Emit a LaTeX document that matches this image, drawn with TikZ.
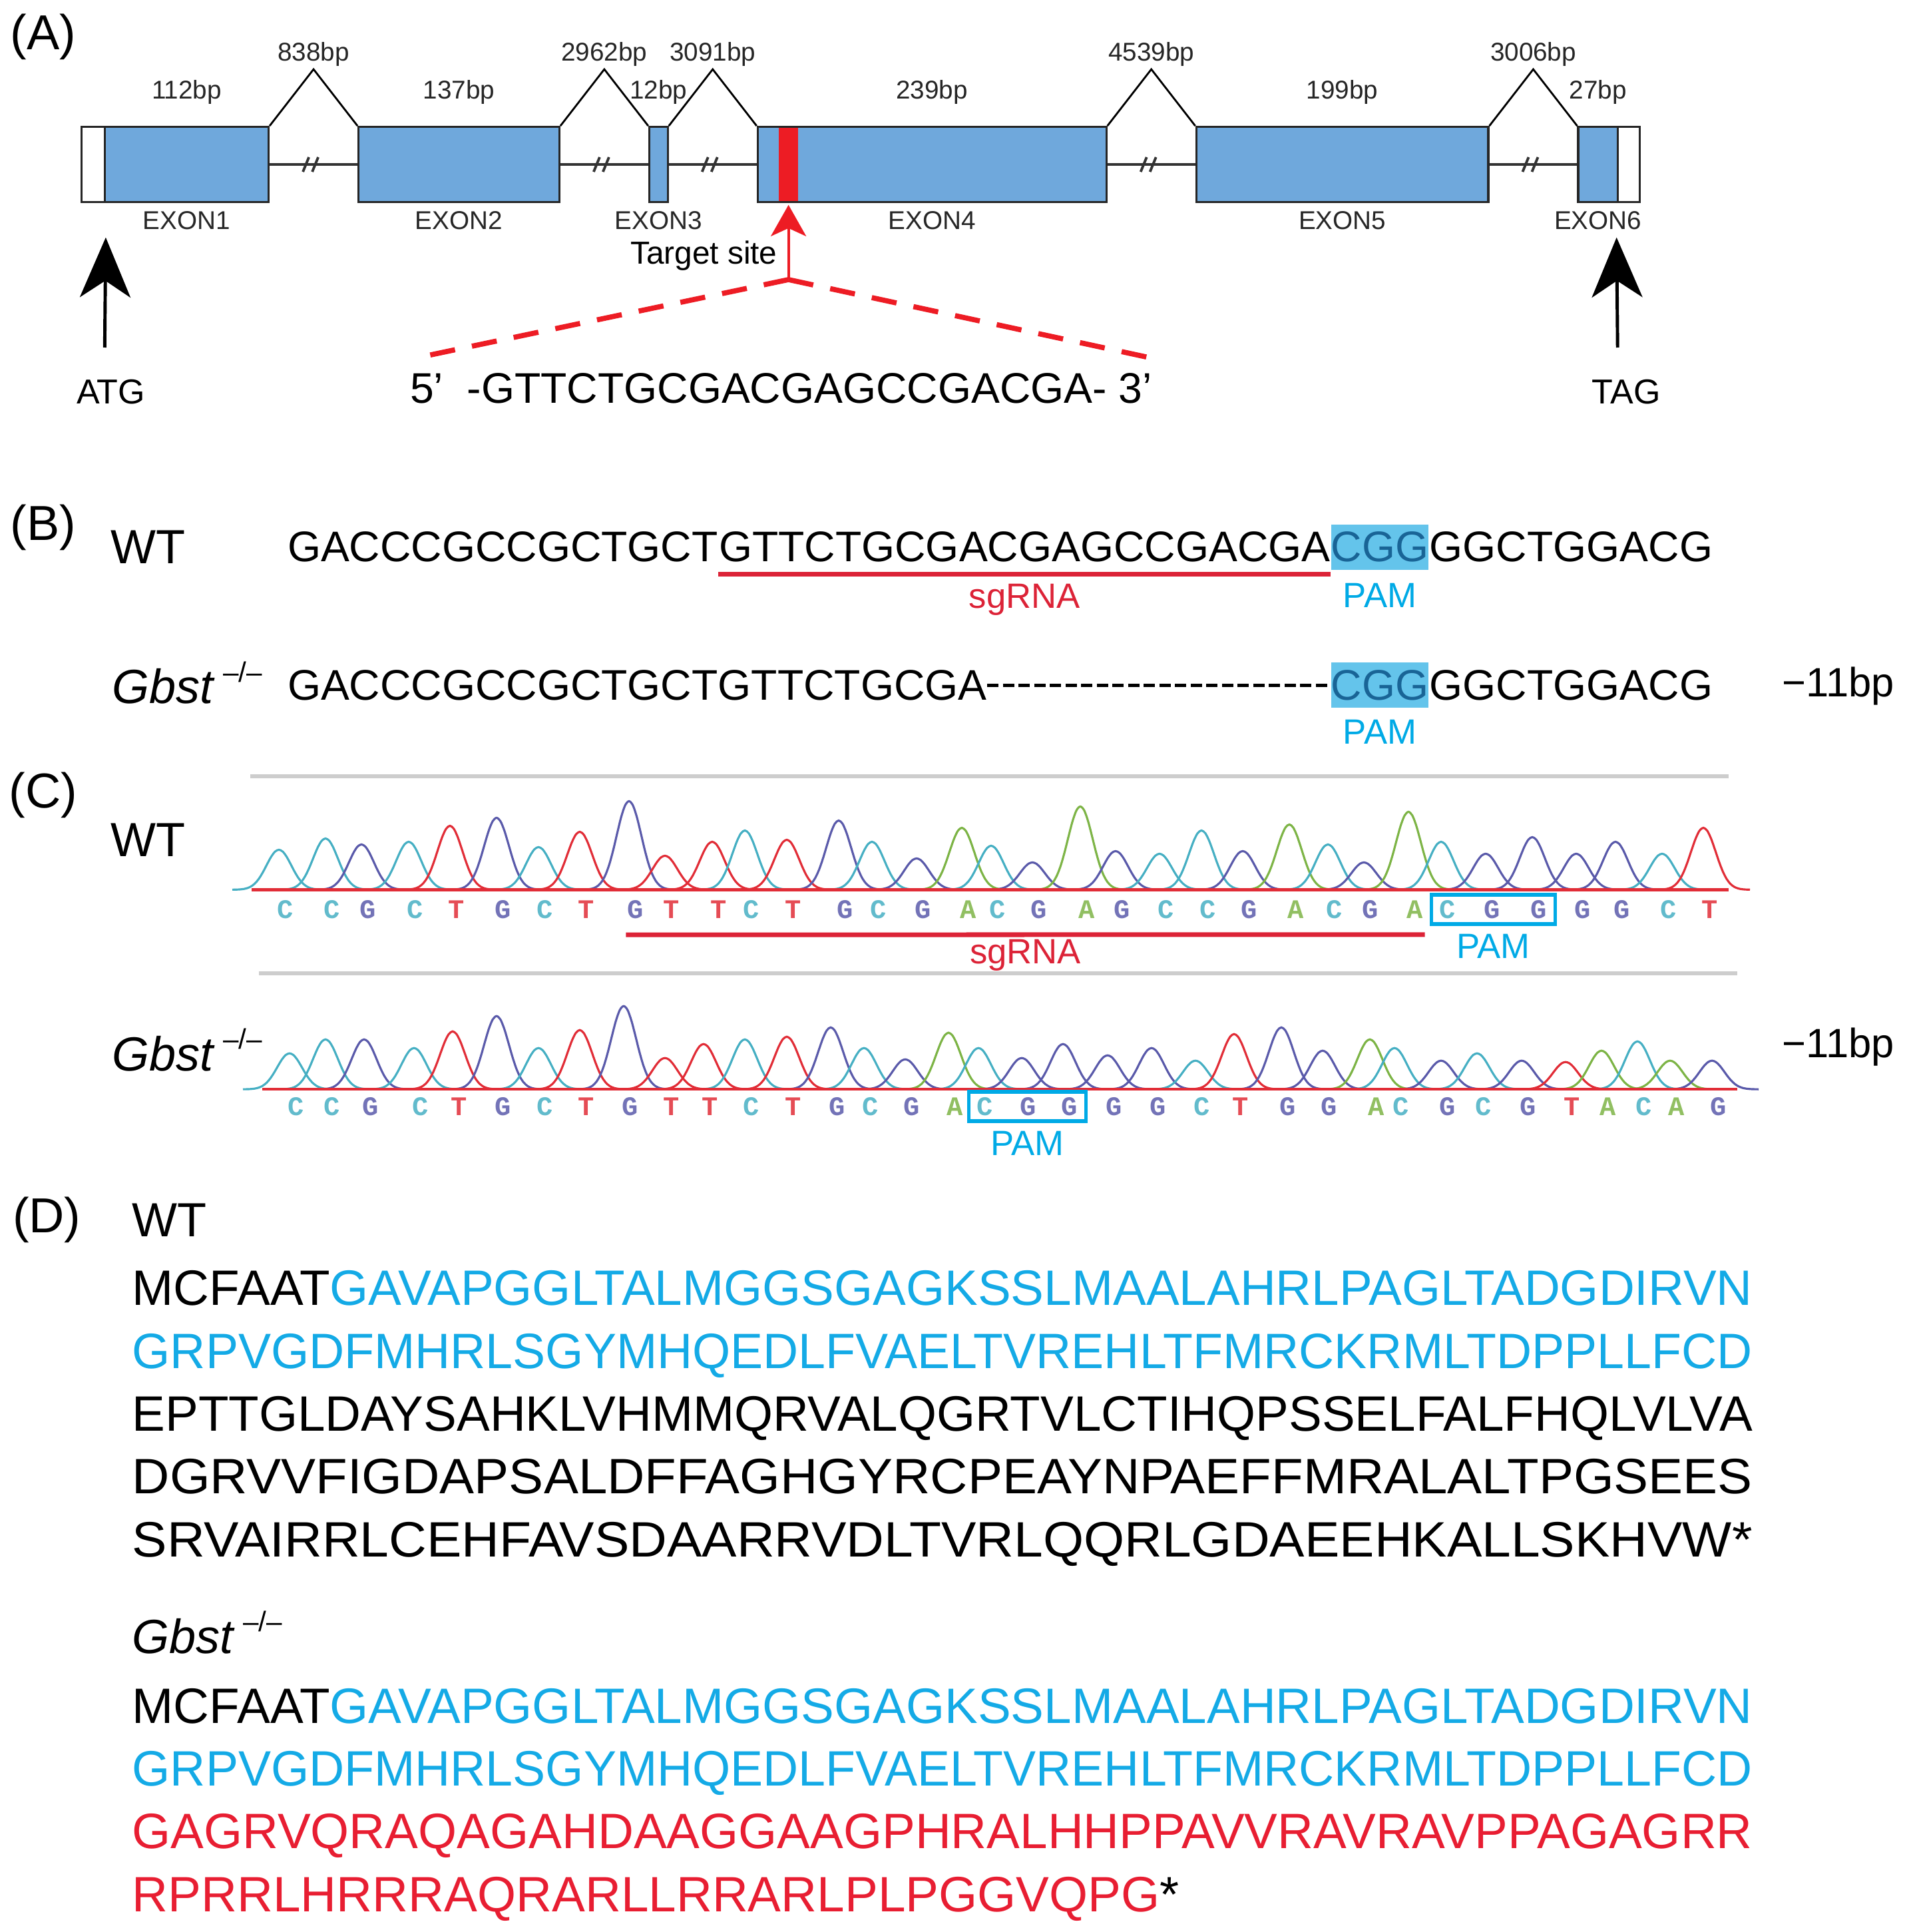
\documentclass[tikz,border=0pt]{standalone}
\usepackage{fontspec}
\setmainfont{Liberation Sans}
\newfontfamily\monofont{Liberation Mono}
\usepackage{graphicx}
\usepackage{tikz}
\usetikzlibrary{arrows.meta,positioning,fit,calc}

\definecolor{exonblue}{RGB}{111,168,220}
\definecolor{siteRed}{RGB}{237,28,36}
\definecolor{pamfill}{RGB}{100,196,235}
\definecolor{pamdark}{RGB}{25,100,150}
\definecolor{pamtext}{RGB}{0,170,230}
\definecolor{sgred}{RGB}{220,35,55}
\definecolor{protblue}{RGB}{20,170,230}
\definecolor{protred}{RGB}{232,30,50}
\definecolor{baseA}{RGB}{125,180,70}
\definecolor{baseC}{RGB}{70,175,195}
\definecolor{baseG}{RGB}{90,90,170}
\definecolor{baseT}{RGB}{225,45,55}
\definecolor{sepgray}{RGB}{205,205,205}

\newcommand{\gbst}{\textit{Gbst}\,\raisebox{0.85ex}{\fontsize{12}{12}\selectfont –/–}}
\newcommand{\fitline}[1]{\resizebox{24.34cm}{\height}{#1}}

\begin{document}
\begin{tikzpicture}[
    panel/.style={font=\fontsize{21}{25}\selectfont},
    lab/.style={font=\fontsize{20.5}{24}\selectfont},
    exon/.style={draw=black!85, line width=0.9pt, fill=exonblue, minimum height=1.129cm, inner sep=0pt},
    utr/.style={exon, fill=white},
    bp/.style={font=\fontsize{11}{13}\selectfont, text=black!85},
    intron/.style={line width=1.1pt, black!80},
    hinge/.style={line width=0.8pt},
    seq/.style={font=\fontsize{18.3}{22}\selectfont, inner xsep=0pt, inner ysep=0.11cm},
    pam/.style={seq, fill=pamfill, text=pamdark},
    tag/.style={font=\fontsize{15}{18}\selectfont},
    bigarr/.style={-{Stealth[length=0.9cm, width=0.76cm, inset=0.25cm]}, line width=1.4pt},
    redarr/.style={-{Stealth[length=0.47cm, width=0.53cm, inset=0.12cm]}, line width=1.2pt, siteRed},
    zoomline/.style={siteRed, line width=2.2pt, dash pattern=on 0.38cm off 0.26cm},
    sgline/.style={sgred, line width=2pt},
    gapline/.style={line width=1.4pt, dash pattern=on 0.17cm off 0.065cm},
    sep/.style={sepgray, line width=1.5pt},
    trace/.style={line width=0.9pt},
    basechar/.style={font=\monofont\bfseries\fontsize{11.5}{13}\selectfont, inner sep=0.5pt},
    pambox/.style={draw=pamtext, line width=1.6pt, inner xsep=0.1cm, inner ysep=0.06cm},
    prot/.style={font=\fontsize{21.25}{24}\selectfont, anchor=base west, inner sep=0pt}
]
\useasboundingbox (0,0) rectangle (28.67,-29.02);

\node[panel] (pA) at (0.648,-0.555) {(A)};
\node[panel] (pB) at (0.648,-7.922) {(B)};
\node[panel] (pC) at (0.648,-11.94) {(C)};
\node[panel] (pD) at (0.703,-18.32) {(D)};

% gene structure
\node[utr, minimum width=0.351cm] (u1) at (1.3975,-2.471) {};
\node[exon, minimum width=2.462cm] (e1) at (2.804,-2.471) {};
\node[exon, minimum width=3.017cm] (e2) at (6.895,-2.471) {};
\node[exon, minimum width=0.278cm] (e3) at (9.893,-2.471) {};
\node[exon, minimum width=5.238cm] (e4) at (14.002,-2.471) {};
\node[exon, minimum width=4.387cm] (e5) at (20.166,-2.471) {};
\node[exon, minimum width=0.592cm] (e6) at (24.006,-2.471) {};
\node[utr, minimum width=0.333cm] (u6) at (24.469,-2.471) {};
\node[fill=siteRed, minimum width=0.296cm, minimum height=1.10cm, inner sep=0pt] (site) at (11.846,-2.471) {};

\foreach \ea/\eb/\len in {e1/e2/838bp, e2/e3/2962bp, e3/e4/3091bp, e4/e5/4539bp, e5/e6/3006bp}{
  \draw[intron] (\ea.east) -- coordinate (m\ea) (\eb.west);
  \draw[intron] ([xshift=-0.16cm,yshift=-0.11cm]m\ea) -- ++(0.09,0.22)
                ([xshift=-0.02cm,yshift=-0.11cm]m\ea) -- ++(0.09,0.22);
  \draw[hinge] (\ea.north east) -- ($(\ea.north east)!0.5!(\eb.north west)+(0,0.85)$)
      node[bp, above, inner sep=1pt] (h\ea) {\len} -- (\eb.north west);
}
\foreach \e/\len [count=\k] in {e1/112bp, e2/137bp, e3/12bp, e4/239bp, e5/199bp, e6/27bp}{
  \node[bp, above=0.2cm of \e] (len\k) {\len};
  \node[bp, below=0pt of \e] (ex\k) {EXON\k};
}

\coordinate (atgfoot) at (1.573,-5.22);
\coordinate (tagfoot) at (24.302,-5.22);
\draw[bigarr] (atgfoot) -- ([yshift=-0.515cm]u1.south east);
\draw[bigarr] (tagfoot) -- ([yshift=-0.515cm]u6.south west);
\node[font=\fontsize{14.8}{17}\selectfont] (atg) at (1.666,-5.886) {ATG};
\node[font=\fontsize{14.8}{17}\selectfont] (tag) at (24.43,-5.886) {TAG};

\coordinate (apex) at (11.846,-4.2);
\coordinate (dl) at (6.293,-5.368);
\coordinate (dr) at (17.25,-5.368);
\draw[redarr] (apex) -- ([yshift=-0.05cm]site.south);
\node[font=\fontsize{13.6}{16}\selectfont, anchor=base east] (tsite) at (11.80,-3.97) {Target site};
\draw[zoomline] (apex) -- (dl);
\draw[zoomline] (apex) -- (dr);
\node[seq] (tseq) at (11.735,-5.83) {5’\ \ -GTTCTGCGACGAGCCGACGA-\ 3’};

% sequences
\node[lab] (wtB) at (2.221,-8.218) {WT};
\node[seq, anchor=west] (wt1) at (4.313,-8.218) {GACCCGCCGCTGCT};
\node[seq, right=0pt of wt1] (wt2) {GTTCTGCGACGAGCCGACGA};
\node[pam, right=0pt of wt2] (pam1) {CGG};
\node[seq, right=0pt of pam1] (wt3) {GGCTGGACG};
\draw[sgline] ([yshift=-0.06cm]wt2.south west) -- ([yshift=-0.06cm]wt2.south east)
    node[midway, below, tag, text=sgred] (sgB) {sgRNA};
\node[tag, text=pamtext, below=0.08cm of pam1] (pamB1) {PAM};

\node[lab] (koB) at (2.813,-10.254) {\gbst};
\node[seq, anchor=west] (ko1) at (4.313,-10.291) {GACCCGCCGCTGCTGTTCTGCGA};
\node[pam] (pam2) at (pam1 |- ko1) {CGG};
\node[seq, right=0pt of pam2] (ko3) {GGCTGGACG};
\draw[gapline] (ko1.east) -- (pam2.west);
\node[tag, text=pamtext, below=0.05cm of pam2] (pamB2) {PAM};
\node[font=\fontsize{17.5}{20}\selectfont] (delB) at (27.62,-10.31) {−11bp};

% chromatograms
\draw[sep] (3.757,-11.66) -- (25.97,-11.66);
\draw[sep] (3.887,-14.62) -- (26.1,-14.62);
\node[lab] (wtC) at (2.221,-12.62) {WT};
\node[lab] (koC) at (2.813,-15.77) {\gbst};
\node[font=\fontsize{17.5}{20}\selectfont] (delC) at (27.62,-15.73) {−11bp};

\foreach \nt/\xpos/\amp [count=\i from 0] in {C/4.29/0.60, C/4.99/0.77, G/5.53/0.68, C/6.24/0.72, T/6.86/0.96,
    G/7.56/1.08, C/8.19/0.64, T/8.81/0.87, G/9.55/1.33, T/10.09/0.51, T/10.80/0.72, C/11.29/0.89,
    T/11.92/0.75, G/12.70/1.04, C/13.20/0.72, G/13.87/0.47, A/14.55/0.93, C/14.99/0.66, G/15.61/0.41,
    A/16.33/1.25, G/16.86/0.58, C/17.52/0.54, C/18.15/0.89, G/18.77/0.58, A/19.47/0.98, C/20.05/0.68,
    G/20.59/0.41, A/21.26/1.17, C/21.75/0.72, G/22.42/0.54, G/23.12/0.79, G/23.78/0.54, G/24.37/0.72,
    C/25.07/0.54, T/25.69/0.93}{
  \draw[trace, base\nt] plot[domain=-0.7:0.7, samples=25, smooth] ({\xpos-0.1+\x}, {-13.364+\amp*exp(-(\x*\x)/0.07)});
  \node[basechar, text=base\nt!85] (wc\i) at (\xpos,-13.66) {\nt};
}
\draw[baseT, line width=1.3pt] (3.776,-13.364) -- (25.97,-13.364);
\node[pambox, fit=(wc28)(wc30)] (wbox) {};
\node[tag, text=pamtext, below=0pt of wbox] (pamC1) {PAM};
\draw[sgline] ([yshift=-0.22cm]wc8.south west) -- ([yshift=-0.22cm]wc27.south east)
    node[midway, below, tag, text=sgred, inner sep=1pt] (sgC) {sgRNA};

\foreach \nt/\xpos/\amp [count=\i from 0] in {C/4.45/0.54, C/4.99/0.75, G/5.57/0.75, C/6.32/0.62, T/6.90/0.87,
    G/7.56/1.10, C/8.19/0.62, T/8.81/0.89, G/9.47/1.25, T/10.09/0.47, T/10.67/0.68, C/11.29/0.75,
    T/11.92/0.79, G/12.58/0.93, C/13.08/0.62, G/13.70/0.45, A/14.35/0.85, C/14.80/0.62, G/15.45/0.47,
    G/16.07/0.68, G/16.74/0.51, G/17.40/0.62, C/18.06/0.43, T/18.64/0.83, G/19.35/0.93, G/19.97/0.58,
    A/20.68/0.75, C/21.05/0.62, G/21.75/0.43, C/22.29/0.54, G/22.96/0.43, T/23.62/0.41, A/24.16/0.58,
    C/24.70/0.72, A/25.19/0.43, G/25.82/0.43}{
  \draw[trace, base\nt] plot[domain=-0.7:0.7, samples=25, smooth] ({\xpos-0.1+\x}, {-16.362+\amp*exp(-(\x*\x)/0.07)});
  \node[basechar, text=base\nt!85] (kc\i) at (\xpos,-16.62) {\nt};
}
\draw[baseT, line width=1.3pt] (3.942,-16.362) -- (26.1,-16.362);
\node[pambox, fit=(kc17)(kc19)] (kbox) {};
\node[tag, text=pamtext, below=0pt of kbox] (pamC2) {PAM};

% proteins
\node[prot, font=\fontsize{20.5}{24}\selectfont] (wtD) at (1.98,-18.57) {WT};
\node[prot] (wp1) at (1.98,-19.60) {\fitline{MCFAAT\textcolor{protblue}{GAVAPGGLTALMGGSGAGKSSLMAALAHRLPAGLTADGDIRVN}}};
\node[prot, text=protblue] (wp2) at (1.98,-20.55) {\fitline{GRPVGDFMHRLSGYMHQEDLFVAELTVREHLTFMRCKRMLTDPPLLFCD}};
\node[prot] (wp3) at (1.98,-21.49) {\fitline{EPTTGLDAYSAHKLVHMMQRVALQGRTVLCTIHQPSSELFALFHQLVLVA}};
\node[prot] (wp4) at (1.98,-22.43) {\fitline{DGRVVFIGDAPSALDFFAGHGYRCPEAYNPAEFFMRALALTPGSEES}};
\node[prot] (wp5) at (1.98,-23.38) {\fitline{SRVAIRRLCEHFAVSDAARRVDLTVRLQQRLGDAEEHKALLSKHVW*}};

\node[prot, font=\fontsize{20.5}{24}\selectfont] (koD) at (1.98,-24.83) {\gbst};
\node[prot] (kp1) at (1.98,-25.88) {\fitline{MCFAAT\textcolor{protblue}{GAVAPGGLTALMGGSGAGKSSLMAALAHRLPAGLTADGDIRVN}}};
\node[prot, text=protblue] (kp2) at (1.98,-26.82) {\fitline{GRPVGDFMHRLSGYMHQEDLFVAELTVREHLTFMRCKRMLTDPPLLFCD}};
\node[prot, text=protred] (kp3) at (1.98,-27.76) {\fitline{GAGRVQRAQAGAHDAAGGAAGPHRALHHPPAVVRAVRAVPPAGAGRR}};
\node[prot] (kp4) at (1.98,-28.71) {\textcolor{protred}{RPRRLHRRRAQRARLLRRARLPLPGGVQPG}*};
\end{tikzpicture}
\end{document}
